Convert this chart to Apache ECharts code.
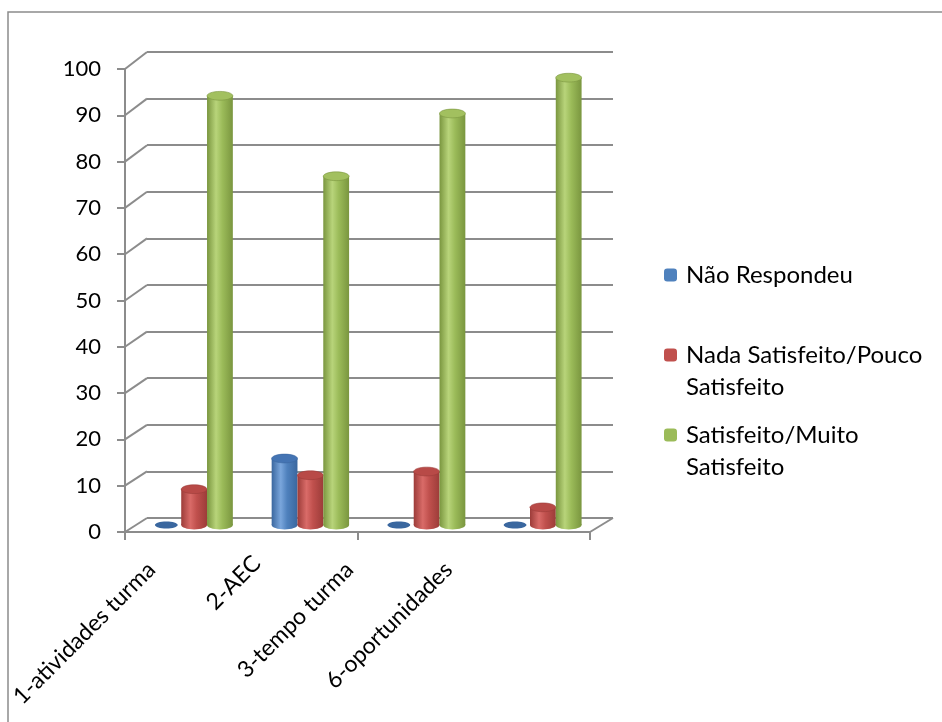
<!DOCTYPE html>
<html>
<head>
<meta charset="utf-8">
<script src="https://cdn.jsdelivr.net/npm/echarts@6/dist/echarts.min.js"></script>
<style>
  html, body { margin: 0; padding: 0; background: #fff; }
  #chart { width: 942px; height: 722px; }
</style>
</head>
<body>
<div id="chart"></div>
<script>
// dados do gráfico
var categorias = ["1-atividades turma", "2-AEC", "3-tempo turma", "6-oportunidades"];
var naoRespondeu = [0, 14.3, 0, 0];
var nadaSatisfeito = [7.7, 10.7, 11.5, 3.8];
var satisfeito = [92.3, 75, 88.5, 96.2];
var ticksY = [0, 10, 20, 30, 40, 50, 60, 70, 80, 90, 100];
var nomes = ["Não Respondeu", "Nada Satisfeito/Pouco\nSatisfeito", "Satisfeito/Muito\nSatisfeito"];

var cores = ["#4F81BD", "#C0504D", "#9BBB59"];
var escuras = ["#3a679f", "#9c3c39", "#7a963f"];
var claras = ["#7aa6dc", "#d96b68", "#b8d47a"];
var topos = ["#4474b3", "#b84a47", "#a2c05f"];
var fonte = "Lato";

function cilindro(idx) {
  return function (params, api) {
    var cat = api.value(0);
    var val = api.value(1);
    var base = api.coord([cat, 0]);
    var topo = api.coord([cat, val]);
    var band = api.size([1, 0])[0];
    var w = band * 0.222;
    var cx = base[0] + (idx - 1) * w;
    var ry = w * 0.17;
    var grad = new echarts.graphic.LinearGradient(0, 0, 1, 0, [
      { offset: 0, color: escuras[idx] },
      { offset: 0.35, color: claras[idx] },
      { offset: 0.6, color: cores[idx] },
      { offset: 1, color: escuras[idx] }
    ]);
    if (val <= 0) {
      return {
        type: "ellipse",
        shape: { cx: cx - 2, cy: base[1], rx: w * 0.44, ry: ry * 0.8 },
        style: { fill: escuras[idx] }
      };
    }
    return {
      type: "group",
      children: [
        { type: "ellipse", shape: { cx: cx, cy: base[1], rx: w / 2, ry: ry }, style: { fill: grad } },
        { type: "rect", shape: { x: cx - w / 2, y: topo[1], width: w, height: base[1] - topo[1] }, style: { fill: grad } },
        { type: "ellipse", shape: { cx: cx, cy: topo[1], rx: w / 2, ry: ry }, style: { fill: topos[idx], stroke: escuras[idx], lineWidth: 0.6 } }
      ]
    };
  };
}

// linhas diagonais da parede lateral e do chão
function diagonais(params, api) {
  var v = api.value(1);
  var p = api.coord([0, v]);
  var esq = params.coordSys.x;
  var dir = params.coordSys.x + params.coordSys.width;
  var dy = -14 - 3 * v / 100;
  var estilo = { stroke: "#8c8c8c", lineWidth: 2 };
  var filhos = [{ type: "line", shape: { x1: esq, y1: p[1], x2: esq + 22, y2: p[1] + dy }, style: estilo }];
  if (v === 0) {
    filhos.push({ type: "line", shape: { x1: dir, y1: p[1], x2: dir + 23, y2: p[1] + dy }, style: estilo });
  }
  return { type: "group", children: filhos };
}

var legendaTexto = { fontSize: 24, color: "#000", fontFamily: fonte, lineHeight: 32, padding: [0, 0, 0, 4] };

var chart = echarts.init(document.getElementById("chart"));

var option = {
  animation: false,
  textStyle: { fontFamily: fonte },
  graphic: [{
    type: "rect",
    shape: { x: 8, y: 12, width: 1000, height: 1000 },
    style: { fill: "none", stroke: "#8c8c8c", lineWidth: 1.5 },
    silent: true
  }],
  grid: [
    { left: 125, top: 69, width: 465, height: 463 },   // frente
    { left: 147, top: 52, width: 466, height: 466 },   // parede do fundo
    { left: 136, top: 60, width: 465, height: 465 },   // barras (meio)
    { left: 102, top: 69, width: 396, height: 463 }    // rótulos
  ],
  xAxis: [
    {
      gridIndex: 0, type: "category", data: categorias,
      axisLine: { lineStyle: { color: "#8c8c8c", width: 2 } },
      axisTick: { show: true, length: 8, lineStyle: { color: "#8c8c8c", width: 2 } },
      axisLabel: { show: false }
    },
    { gridIndex: 1, type: "category", data: categorias, show: false },
    { gridIndex: 2, type: "category", data: categorias, show: false },
    {
      gridIndex: 3, type: "category",
      data: categorias.map(function (c, i) {
        return i === 1 ? { value: c, textStyle: { padding: [0, -9, 31, 0] } } : c;
      }),
      axisLine: { show: false }, axisTick: { show: false },
      axisLabel: { rotate: 45, margin: 34, color: "#000", fontSize: 23, fontFamily: fonte, interval: 0 }
    }
  ],
  yAxis: [
    {
      gridIndex: 0, type: "value", min: 0, max: 100, interval: 10,
      axisLine: { show: true, lineStyle: { color: "#8c8c8c", width: 2 } },
      axisTick: { show: true, length: 8, lineStyle: { color: "#8c8c8c", width: 2 } },
      splitLine: { show: false },
      axisLabel: { margin: 24, color: "#000", fontSize: 22, fontFamily: fonte }
    },
    {
      gridIndex: 1, type: "value", min: 0, max: 100, interval: 10,
      axisLine: { show: false }, axisTick: { show: false }, axisLabel: { show: false },
      splitLine: { lineStyle: { color: "#8c8c8c", width: 2 } }
    },
    { gridIndex: 2, type: "value", min: 0, max: 100, show: false, splitLine: { show: false } },
    { gridIndex: 3, type: "value", min: 0, max: 100, show: false, splitLine: { show: false } }
  ],
  legend: [
    {
      data: [nomes[0]], orient: "vertical", left: 659, top: 254,
      itemWidth: 13, itemHeight: 13, textStyle: legendaTexto
    },
    {
      data: [nomes[1]], orient: "vertical", left: 659, top: 302,
      itemWidth: 13, itemHeight: 13, textStyle: legendaTexto,
      formatter: function (n) { return "\n" + n; }
    },
    {
      data: [nomes[2]], orient: "vertical", left: 659, top: 382,
      itemWidth: 13, itemHeight: 13, textStyle: legendaTexto,
      formatter: function (n) { return "\n" + n; }
    }
  ],
  series: [
    {
      type: "custom", name: "diag", xAxisIndex: 0, yAxisIndex: 0, silent: true, z: 0,
      renderItem: diagonais,
      data: ticksY.map(function (v) { return [0, v]; })
    },
    {
      type: "custom", name: nomes[0], xAxisIndex: 2, yAxisIndex: 2, color: cores[0],
      renderItem: cilindro(0), encode: { x: 0, y: 1 },
      data: naoRespondeu.map(function (v, i) { return [i, v]; })
    },
    {
      type: "custom", name: nomes[1], xAxisIndex: 2, yAxisIndex: 2, color: cores[1],
      renderItem: cilindro(1), encode: { x: 0, y: 1 },
      data: nadaSatisfeito.map(function (v, i) { return [i, v]; })
    },
    {
      type: "custom", name: nomes[2], xAxisIndex: 2, yAxisIndex: 2, color: cores[2],
      renderItem: cilindro(2), encode: { x: 0, y: 1 },
      data: satisfeito.map(function (v, i) { return [i, v]; })
    }
  ]
};

chart.setOption(option);
</script>
</body>
</html>
